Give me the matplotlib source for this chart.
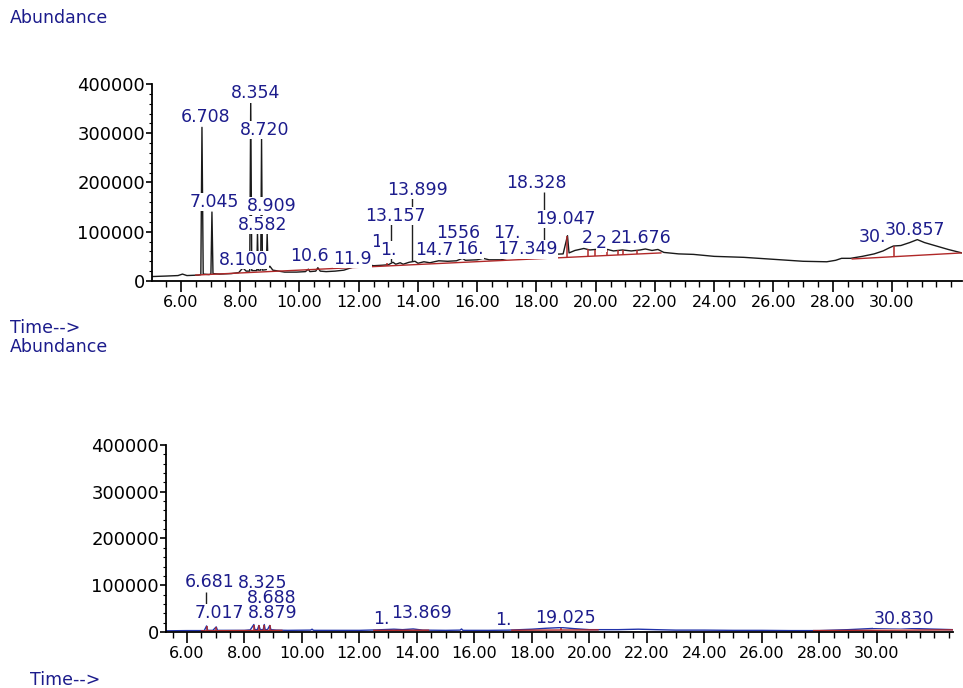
import matplotlib.pyplot as plt
import numpy as np
from matplotlib.ticker import MultipleLocator, FixedLocator, FuncFormatter

# ---- upper chromatogram (black TIC) ----
top_t = [5.02, 5.5, 5.9, 6.05, 6.2, 6.6, 6.67, 6.708, 6.75, 6.95, 7.01, 7.045, 7.08,
         7.3, 7.7, 7.95, 8.05, 8.10, 8.2, 8.32, 8.354, 8.39, 8.5, 8.56, 8.582, 8.61,
         8.69, 8.720, 8.75, 8.88, 8.909, 8.94, 9.0, 9.1, 9.5, 9.9, 10.2, 10.3, 10.35,
         10.55, 10.62, 10.7, 10.9, 11.2, 11.5, 11.7, 11.9, 12.1, 12.3, 12.5, 12.8,
         13.0, 13.157, 13.25, 13.4, 13.5, 13.7, 13.899, 14.0, 14.2, 14.4, 14.7, 15.0,
         15.3, 15.5, 15.6, 16.0, 16.2, 16.4, 16.8, 17.0, 17.15, 17.25, 17.4, 17.5,
         17.75, 18.0, 18.3, 18.328, 18.36, 18.42, 18.45, 18.48, 18.9, 19.047, 19.1,
         19.3, 19.6, 19.8, 20.0, 20.2, 20.4, 20.6, 20.9, 21.2, 21.5, 21.676, 21.9,
         22.1, 22.3, 22.8, 23.3, 24.0, 25.0, 26.0, 27.0, 27.8, 28.1, 28.3, 28.6, 29.0,
         29.4, 29.7, 29.9, 30.05, 30.3, 30.6, 30.857, 31.1, 31.5, 31.9, 32.36]
top_a = [9000, 10000, 11000, 14000, 11000, 12000, 13000, 312000, 14000, 13000, 14000,
         140000, 15000, 14000, 15000, 17000, 24000, 26000, 20000, 20000, 367000, 21000,
         21000, 21000, 100000, 22000, 22000, 290000, 22000, 23000, 97000, 26000, 30000,
         22000, 18000, 18000, 19000, 24000, 19000, 20000, 27000, 20000, 19000, 20000,
         22000, 26000, 30000, 31000, 33000, 31000, 32000, 33000, 38000, 34000, 37000,
         34000, 38000, 40000, 36000, 39000, 37000, 41000, 40000, 41000, 46000, 42000,
         43000, 46000, 43000, 43000, 46000, 52000, 47000, 56000, 48000, 52000, 50000,
         52000, 73000, 53000, 53000, 73000, 54000, 55000, 92000, 57000, 62000, 66000,
         63000, 64000, 60000, 64000, 61000, 63000, 61000, 63000, 65000, 62000, 64000,
         58000, 55000, 54000, 50000, 48000, 44000, 40000, 39000, 42000, 46000, 46000,
         50000, 55000, 61000, 67000, 71000, 72000, 78000, 84000, 78000, 71000, 64000,
         57000]

# integration baselines (red)
top_base = [([6.5, 22.2], [12000, 57000]), ([28.66, 32.36], [44700, 57000])]
top_mark_t = [12.97, 17.75, 18.328, 18.45, 19.047, 19.74,
              19.97, 20.38, 20.75, 20.92, 21.39, 30.07]
top_mark_a = [36000, 52000, 73000, 73000, 92000, 65000,
              63000, 62000, 62000, 62000, 62000, 71000]

# leader lines: time, low, high
top_lead = [(13.10, 38000, 115000), (13.81, 40000, 168000), (18.26, 73000, 181000)]

top_lbl = ["6.708", "8.354", "8.720", "7.045", "8.909", "8.582", "8.100", "10.6",
           "11.9", "13.157", "13.899", "1", "1.", "1556", "14.7", "16.", "17.",
           "17.349", "18.328", "19.047", "2", "2", "21.676", "30.", "30.857"]
top_lbl_t = [6.84, 8.53, 8.83, 7.14, 9.06, 8.76, 8.12, 10.34, 11.79, 13.24, 13.98,
             12.6, 13.0, 15.35, 14.55, 15.75, 17.0, 17.7, 17.99, 18.96, 19.7, 20.2,
             21.55, 29.35, 30.78]
top_lbl_a = [333000, 381000, 306500, 160000, 152000, 113700, 42600, 50700, 44700,
             132000, 184700, 79000, 63000, 97000, 63000, 64000, 97000, 64000, 199000,
             126000, 87000, 77000, 87000, 89000, 103500]

# ---- lower chromatogram (blue TIC) ----
bot_t = [5.27, 6.0, 6.6, 6.681, 6.72, 6.9, 7.017, 7.06, 7.5, 8.0, 8.2, 8.325, 8.36,
         8.45, 8.5, 8.55, 8.65, 8.688, 8.72, 8.8, 8.879, 8.92, 9.1, 9.5, 10.3, 10.35,
         10.4, 11.0, 12.0, 12.6, 13.2, 13.5, 13.869, 14.2, 15.0, 15.5, 15.55, 15.6,
         16.5, 17.2, 17.6, 18.0, 18.5, 19.025, 19.5, 20.0, 21.0, 21.7, 22.3, 23.0,
         24.0, 25.0, 26.0, 27.0, 28.0, 29.0, 30.0, 30.83, 31.5, 32.64]
bot_a = [2500, 3000, 3000, 13000, 3500, 3500, 11000, 3500, 3500, 3500, 4500, 16000,
         5000, 5000, 14000, 5000, 5000, 16000, 5000, 5000, 14000, 5000, 4000, 3500,
         4000, 6000, 3500, 3500, 3500, 4500, 6000, 5000, 6500, 4000, 3500, 4000, 6500,
         3500, 3500, 4000, 5000, 6000, 8000, 9500, 7000, 5000, 5000, 6000, 5000, 4000,
         4000, 3500, 3500, 3000, 3000, 5000, 8000, 9000, 7000, 5000]

bot_base = [([6.5, 9.3], [2500, 3500]), ([12.5, 14.4], [3500, 3800]),
            ([17.3, 20.3], [3800, 4500]), ([27.8, 32.64], [3000, 4500])]
bot_mark_t = [6.681, 7.017, 8.325, 8.5, 8.688, 8.879, 19.025]
bot_mark_a = [13000, 11000, 16000, 14000, 16000, 14000, 9500]
bot_lead = [(6.66, 57000, 85000)]

bot_lbl = ["6.681", "8.325", "8.688", "7.017", "8.879", "1.", "13.869", "1.",
           "19.025", "30.830"]
bot_lbl_t = [6.77, 8.62, 8.94, 7.12, 8.97, 12.75, 14.15, 17.0, 19.18, 30.93]
bot_lbl_a = [107000, 105000, 72000, 40600, 40600, 28000, 40600, 26000, 30000, 27800]

time_ticks = [6, 8, 10, 12, 14, 16, 18, 20, 22, 24, 26, 28, 30]

navy = "#1c1c8c"
red = "#b02828"

fig = plt.figure(figsize=(9.63, 6.88), dpi=100)
ax1 = fig.add_axes([0.1578, 0.5916, 0.841, 0.2863])
ax2 = fig.add_axes([0.1724, 0.0814, 0.817, 0.2718])


def style(ax, xlim):
    ax.set_xlim(*xlim)
    ax.set_ylim(0, 400000)
    for s in ("top", "right"):
        ax.spines[s].set_visible(False)
    for s in ("left", "bottom"):
        ax.spines[s].set_linewidth(1.3)
    ax.xaxis.set_major_locator(FixedLocator(time_ticks))
    ax.xaxis.set_minor_locator(MultipleLocator(0.5))
    ax.yaxis.set_major_locator(MultipleLocator(100000))
    ax.yaxis.set_minor_locator(MultipleLocator(20000))
    ax.xaxis.set_major_formatter(FuncFormatter(lambda v, p: "%.2f" % v))
    ax.yaxis.set_major_formatter(FuncFormatter(lambda v, p: "%d" % v))
    ax.tick_params(axis="x", which="major", length=8, width=1.2, labelsize=11.5, pad=2)
    ax.tick_params(axis="x", which="minor", length=4.5, width=1.0)
    ax.tick_params(axis="y", which="major", length=4, width=1.2, labelsize=13, pad=1)
    ax.tick_params(axis="y", which="minor", length=2.5, width=0.8)


def draw(ax, t, a, color, base, mark_t, mark_a, lead, lbl, lbl_t, lbl_a):
    ax.plot(t, a, color=color, lw=1.0, zorder=2)
    base_t = []
    base_a = []
    for bt, ba in base:
        ax.plot(bt, ba, color=red, lw=1.0, zorder=2.2)
        base_t += bt
        base_a += ba
    for mt, ma in zip(mark_t, mark_a):
        b0 = np.interp(mt, base_t, base_a)
        ax.vlines(mt, b0, ma, color=red, lw=1.1, zorder=2.4)
    for lt, lo, hi in lead:
        ax.vlines(lt, lo, hi, color="#202020", lw=1.0, zorder=2.1)
    for s, x, y in zip(lbl, lbl_t, lbl_a):
        ax.text(x, y, s, color=navy, fontsize=12.5, ha="center", va="center",
                zorder=3, bbox=dict(facecolor="white", edgecolor="none", pad=0.1))


style(ax1, (5.02, 32.36))
style(ax2, (5.27, 32.64))
draw(ax1, top_t, top_a, "#1a1a1a", top_base, top_mark_t, top_mark_a, top_lead,
     top_lbl, top_lbl_t, top_lbl_a)
draw(ax2, bot_t, bot_a, "#2233aa", bot_base, bot_mark_t, bot_mark_a, bot_lead,
     bot_lbl, bot_lbl_t, bot_lbl_a)

fig.text(0.0104, 0.974, "Abundance", color=navy, fontsize=12.5, va="center")
fig.text(0.0104, 0.523, "Time-->", color=navy, fontsize=12.5, va="center")
fig.text(0.0104, 0.4956, "Abundance", color=navy, fontsize=12.5, va="center")
fig.text(0.031, 0.0116, "Time-->", color=navy, fontsize=12.5, va="center")

fig.savefig("out.png", dpi=100)
